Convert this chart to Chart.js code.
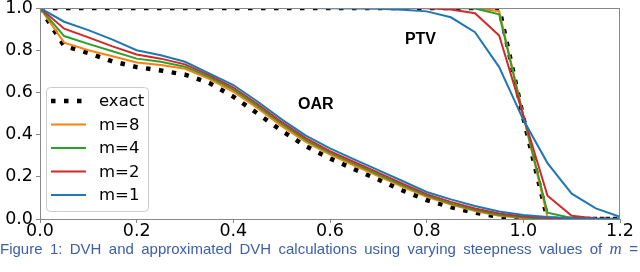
<!DOCTYPE html>
<html>
<head>
<meta charset="utf-8">
<script src="https://cdn.jsdelivr.net/npm/chart.js@4/dist/chart.umd.min.js"></script>
<style>
  html, body { margin: 0; padding: 0; background: #fff; }
  #wrap { position: relative; width: 640px; height: 272px; overflow: hidden; }
  #caption {
    position: absolute; left: 0; top: 241px; width: 638px;
    font: 15px "Liberation Sans", Arial, sans-serif; line-height: 16px;
    color: #3d5ea8; text-align: justify; text-align-last: justify; white-space: nowrap;
  }
  #caption i { font-family: "Liberation Serif", serif; font-size: 17px; }
</style>
</head>
<body>
<div id="wrap">
  <canvas id="chart" width="640" height="272"></canvas>
  <div id="caption">Figure 1: DVH and approximated DVH calculations using varying steepness values of <i>m</i> =</div>
</div>
<script>
// dose axis (relative dose) and volume fractions
const dose = [0, 0.05, 0.1, 0.15, 0.2, 0.25, 0.3, 0.35, 0.4, 0.45, 0.5, 0.55, 0.6,
  0.65, 0.7, 0.75, 0.8, 0.85, 0.9, 0.95, 1.0, 1.05, 1.1, 1.15, 1.2];

const exactOAR = [1, 0.82, 0.787, 0.747, 0.72, 0.704, 0.684, 0.645, 0.58, 0.5, 0.418, 0.345, 0.287,
  0.236, 0.187, 0.135, 0.09, 0.056, 0.03, 0.01, 0, 0, 0, 0, 0];
const m8OAR = [1, 0.836, 0.8, 0.771, 0.742, 0.73, 0.712, 0.664, 0.603, 0.525, 0.44, 0.365, 0.305,
  0.253, 0.203, 0.152, 0.105, 0.068, 0.038, 0.015, 0.004, 0, 0, 0, 0];
const m4OAR = [1, 0.867, 0.83, 0.795, 0.76, 0.745, 0.722, 0.673, 0.613, 0.535, 0.45, 0.374, 0.313,
  0.261, 0.211, 0.16, 0.111, 0.073, 0.043, 0.019, 0.007, 0.002, 0, 0, 0];
const m2OAR = [1, 0.902, 0.861, 0.818, 0.78, 0.76, 0.733, 0.682, 0.623, 0.545, 0.46, 0.383, 0.322,
  0.27, 0.22, 0.168, 0.118, 0.081, 0.05, 0.026, 0.012, 0.005, 0.002, 0, 0];
const m1OAR = [1, 0.935, 0.895, 0.85, 0.8, 0.776, 0.745, 0.69, 0.635, 0.557, 0.472, 0.395, 0.335,
  0.283, 0.232, 0.18, 0.128, 0.093, 0.062, 0.036, 0.019, 0.01, 0.004, 0.001, 0];

const exactPTV = [1, 1, 1, 1, 1, 1, 1, 1, 1, 1, 1, 1, 1,
  1, 1, 1, 1, 1, 1, 1, 0.48, 0, 0, 0, 0];
const m8PTV = [1, 1, 1, 1, 1, 1, 1, 1, 1, 1, 1, 1, 1,
  1, 1, 1, 1, 1, 1, 0.985, 0.49, 0.01, 0, 0, 0];
const m4PTV = [1, 1, 1, 1, 1, 1, 1, 1, 1, 1, 1, 1, 1,
  1, 1, 1, 1, 1, 0.998, 0.97, 0.49, 0.03, 0.005, 0.001, 0];
const m2PTV = [1, 1, 1, 1, 1, 1, 1, 1, 1, 1, 1, 1, 1,
  1, 1, 1, 0.999, 0.993, 0.975, 0.87, 0.49, 0.11, 0.015, 0.002, 0];
const m1PTV = [1, 1, 1, 1, 1, 1, 1, 1, 1, 1, 1, 1, 0.999,
  0.998, 0.996, 0.992, 0.984, 0.956, 0.885, 0.72, 0.47, 0.265, 0.12, 0.05, 0.01];

const seriesNames = ['exact', 'm=8', 'm=4', 'm=2', 'm=1'];
const xTicks = [0, 0.2, 0.4, 0.6, 0.8, 1.0, 1.2];
const yTicks = [0, 0.2, 0.4, 0.6, 0.8, 1.0];

const colors = { exact: '#000000', 'm=8': '#ff7f0e', 'm=4': '#2ca02c', 'm=2': '#d62728', 'm=1': '#1f77b4' };
const dots = [4.5, 8.5];
const axisGrey = '#888888';
const tickFont = { family: 'DejaVu Sans', size: 17.5 };

const pts = arr => dose.map((d, i) => ({ x: d, y: arr[i] }));

function line(name, arr) {
  const isExact = name === 'exact';
  return {
    label: name,
    data: pts(arr),
    borderColor: colors[name],
    borderWidth: isExact ? 4.5 : 2,
    borderDash: isExact ? dots : [],
    borderCapStyle: 'butt',
    pointRadius: 0,
    tension: 0,
    fill: false,
    clip: 0
  };
}

// first dataset ends up on top
const datasets = [
  line('m=1', m1OAR), line('m=1', m1PTV),
  line('m=2', m2OAR), line('m=2', m2PTV),
  line('m=4', m4OAR), line('m=4', m4PTV),
  line('m=8', m8OAR), line('m=8', m8PTV),
  line('exact', exactOAR), line('exact', exactPTV)
];

const labelsPlugin = {
  id: 'extras',
  afterDatasetsDraw(chart) {
    const { ctx, chartArea: a, scales } = chart;
    ctx.save();
    // frame
    ctx.strokeStyle = axisGrey;
    ctx.lineWidth = 1;
    ctx.strokeRect(a.left + 0.5, a.top + 0.5, a.right - a.left - 1, a.bottom - a.top);

    // region labels
    ctx.fillStyle = '#000';
    ctx.font = 'bold 16px "Liberation Sans"';
    ctx.textBaseline = 'alphabetic';
    ctx.fillText('OAR', scales.x.getPixelForValue(0.534), scales.y.getPixelForValue(0.522));
    ctx.fillText('PTV', scales.x.getPixelForValue(0.755), scales.y.getPixelForValue(0.83));

    // legend box
    const bx = a.left + 6, by = a.top + 79, bw = 102, bh = 124;
    ctx.beginPath();
    ctx.roundRect(bx + 0.5, by + 0.5, bw, bh, 4);
    ctx.fillStyle = 'rgba(255,255,255,0.8)';
    ctx.fill();
    ctx.strokeStyle = '#cccccc';
    ctx.lineWidth = 1;
    ctx.stroke();

    ctx.font = '16.5px "DejaVu Sans"';
    ctx.textBaseline = 'middle';
    seriesNames.forEach((name, i) => {
      const y = by + 14 + i * 23.5;
      ctx.beginPath();
      ctx.strokeStyle = colors[name];
      ctx.lineWidth = name === 'exact' ? 4.5 : 2;
      ctx.setLineDash(name === 'exact' ? dots : []);
      ctx.lineCap = 'butt';
      ctx.moveTo(bx + 5, y);
      ctx.lineTo(bx + 40, y);
      ctx.stroke();
      ctx.setLineDash([]);
      ctx.fillStyle = '#000';
      ctx.fillText(name, bx + 53, y + 1);
    });
    ctx.restore();
  }
};

new Chart(document.getElementById('chart'), {
  type: 'line',
  data: { datasets },
  plugins: [labelsPlugin],
  options: {
    responsive: false,
    animation: false,
    devicePixelRatio: 1,
    layout: { padding: { top: 8, right: 20, left: 0, bottom: 0 } },
    plugins: { legend: { display: false }, tooltip: { enabled: false } },
    scales: {
      x: {
        type: 'linear', min: 0, max: 1.2,
        afterBuildTicks: s => { s.ticks = xTicks.map(v => ({ value: v })); },
        afterFit: s => { s.height = 53; s.paddingLeft = 0; s.paddingRight = 0; },
        ticks: { color: '#000', font: tickFont, padding: -2, maxRotation: 0,
          callback: v => v.toFixed(1) },
        grid: { display: true, drawOnChartArea: false, drawTicks: true, tickLength: 4, color: axisGrey },
        border: { display: true, color: axisGrey }
      },
      y: {
        type: 'linear', min: 0, max: 1,
        afterBuildTicks: s => { s.ticks = yTicks.map(v => ({ value: v })); },
        afterFit: s => { s.width = 40; s.paddingTop = 0; s.paddingBottom = 0; },
        ticks: { color: '#000', font: tickFont, padding: 3,
          callback: v => v.toFixed(1) },
        grid: { display: true, drawOnChartArea: false, drawTicks: true, tickLength: 4, color: axisGrey },
        border: { display: true, color: axisGrey }
      }
    }
  }
});
</script>
</body>
</html>
